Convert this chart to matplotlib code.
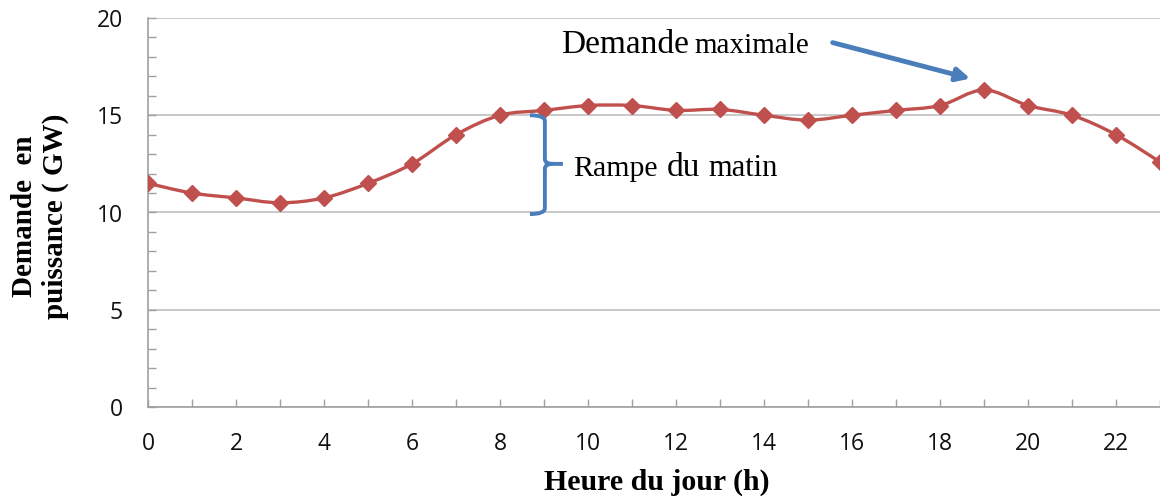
import numpy as np
import matplotlib
matplotlib.use("Agg")
import matplotlib.pyplot as plt
from matplotlib.path import Path
from matplotlib.patches import PathPatch

heures = list(range(24))
demande = [11.5, 11.0, 10.75, 10.5, 10.75, 11.5, 12.5, 14.0, 15.0, 15.25, 15.5, 15.5,
           15.25, 15.3, 15.0, 14.75, 15.0, 15.25, 15.5, 16.3, 15.5, 15.0, 14.0, 12.6]
xticks = list(range(0, 23, 2))
yticks = [0, 5, 10, 15, 20]

rouge = "#C0504D"
bleu = "#4A7EBB"
gris = "#BFBFBF"

fig = plt.figure(figsize=(11.6, 4.96), dpi=100)
ax = fig.add_axes([148 / 1160, 1 - 407 / 496, 1 - 148 / 1160, (407 - 18) / 496])

# courbe lissee (type Excel) : segments de Bezier a partir des points
pts = np.column_stack([heures, demande])
verts = [tuple(pts[0])]
codes = [Path.MOVETO]
n = len(pts)
for i in range(n - 1):
    p0 = pts[max(i - 1, 0)]
    p1 = pts[i]
    p2 = pts[i + 1]
    p3 = pts[min(i + 2, n - 1)]
    c1 = p1 + (p2 - p0) / 6
    c2 = p2 - (p3 - p1) / 6
    verts += [tuple(c1), tuple(c2), tuple(p2)]
    codes += [Path.CURVE4] * 3
ax.add_patch(PathPatch(Path(verts, codes), facecolor="none", edgecolor=rouge, lw=2.4, zorder=3))
ax.plot(heures, demande, linestyle="none", marker="D", markersize=8, color=rouge, zorder=4)

ax.set_xlim(0, 23)
ax.set_ylim(0, 20)
ax.set_xticks(xticks)
ax.set_xticks(range(0, 24), minor=True)
ax.set_yticks(yticks)
ax.set_yticks(range(0, 21), minor=True)
ax.tick_params(which="both", direction="in", length=6, color="#A0A0A0", width=1)
ax.tick_params(axis="both", which="major", labelsize=16.5, pad=18, labelcolor="#111111")
for lab in ax.get_xticklabels() + ax.get_yticklabels():
    lab.set_fontfamily("Open Sans")
ax.yaxis.grid(True, color=gris, lw=1.2)
ax.set_axisbelow(True)
for s in ["top", "right"]:
    ax.spines[s].set_visible(False)
for s in ["left", "bottom"]:
    ax.spines[s].set_color("#A0A0A0")
    ax.spines[s].set_linewidth(1.2)

# annotations
ax.text(12.3, 18.2, "Demande", ha="right", va="baseline", family="Liberation Serif", fontsize=24)
ax.text(12.42, 18.2, "maximale", ha="left", va="baseline", family="Liberation Serif", fontsize=21)
ax.annotate("", xy=(18.75, 16.85), xytext=(15.5, 18.77),
            arrowprops=dict(arrowstyle="-|>,head_length=0.8,head_width=0.4", color=bleu, lw=3.5))

ax.text(9.66, 11.88, "Rampe", ha="left", va="baseline", family="Liberation Serif", fontsize=21.5)
ax.text(11.8, 11.88, "du", ha="left", va="baseline", family="Liberation Serif", fontsize=24)
ax.text(12.73, 11.88, "matin", ha="left", va="baseline", family="Liberation Serif", fontsize=22)

# accolade
bx, tx, nx = 9.02, 8.68, 9.43
ytop, ybot, ymid = 15.0, 9.92, 12.5
bv = [(tx, ytop), (bx, ytop), (bx, ytop - 0.3), (bx, ymid + 0.25), (bx, ymid), (bx + 0.18, ymid),
      (nx, ymid),
      (bx + 0.18, ymid), (bx, ymid), (bx, ymid - 0.25), (bx, ybot + 0.3), (bx, ybot), (tx, ybot)]
bc = [Path.MOVETO, Path.CURVE3, Path.CURVE3, Path.LINETO, Path.CURVE3, Path.CURVE3,
      Path.LINETO,
      Path.MOVETO, Path.CURVE3, Path.CURVE3, Path.LINETO, Path.CURVE3, Path.CURVE3]
ax.add_patch(PathPatch(Path(bv, bc), facecolor="none", edgecolor=bleu, lw=2.8, zorder=5))

fig.text(657 / 1160, 1 - 482 / 496, "Heure du jour (h)", ha="center", va="center",
         family="Liberation Serif", fontweight="bold", fontsize=21.5)
fig.text(40 / 1160, 1 - 216 / 496, "Demande  en\npuissance ( GW)", ha="center", va="center",
         rotation=90, multialignment="center", family="Liberation Serif", fontweight="bold",
         fontsize=21, linespacing=1.2)

fig.savefig("out.png", dpi=100)
